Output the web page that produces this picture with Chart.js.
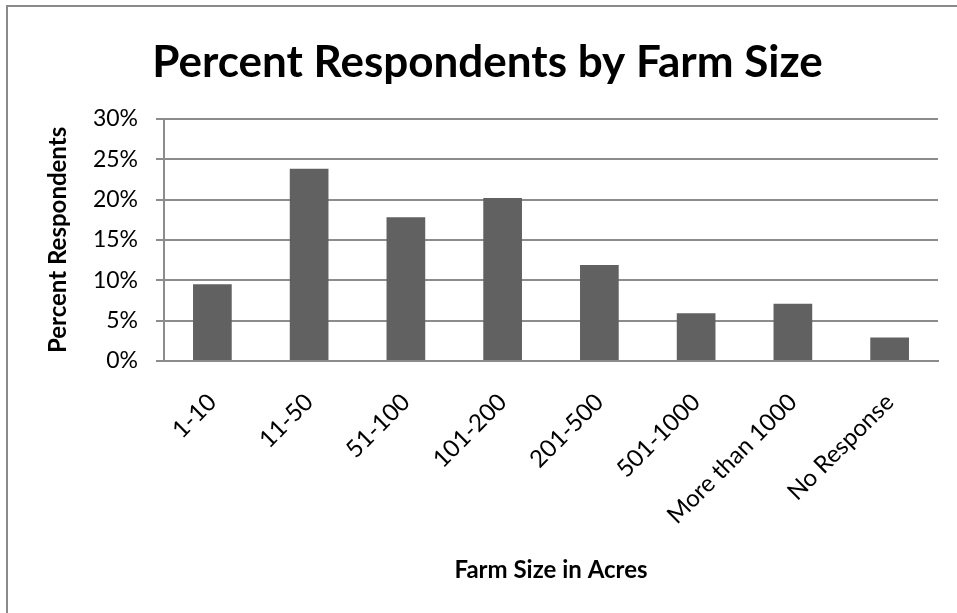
<!DOCTYPE html>
<html>
<head>
<meta charset="utf-8">
<script src="https://cdn.jsdelivr.net/npm/chart.js@4"></script>
<style>
  html, body { margin: 0; padding: 0; background: #fff; overflow: hidden; }
  #frame {
    position: absolute; left: 6px; top: 5px; width: 980px; height: 620px;
    border-left: 2px solid #8a8a8a; border-top: 2px solid #8a8a8a;
  }
  #wrap { position: absolute; left: 0; top: 0; width: 975px; height: 613px; }
</style>
</head>
<body>
<div id="frame"></div>
<div id="wrap"><canvas id="chart" width="975" height="613"></canvas></div>
<script>
// Data
const farmSizes = ['1-10', '11-50', '51-100', '101-200', '201-500', '501-1000', 'More than 1000', 'No Response'];
const percentRespondents = [9.5, 23.8, 17.8, 20.2, 11.9, 5.9, 7.1, 2.9];
const yTicks = [0, 5, 10, 15, 20, 25, 30];

const fontFamily = 'Lato, "Open Sans", sans-serif';
const gridColor = '#8c8c8c';

// Chart
const ctx = document.getElementById('chart').getContext('2d');
const chart = new Chart(ctx, {
  type: 'bar',
  data: {
    labels: farmSizes,
    datasets: [{
      label: 'Percent Respondents',
      data: percentRespondents,
      backgroundColor: '#616161',
      borderWidth: 0,
      categoryPercentage: 1,
      barPercentage: 0.4
    }]
  },
  options: {
    responsive: false,
    animation: false,
    layout: { padding: 0 },
    plugins: {
      legend: { display: false },
      tooltip: { enabled: false },
      title: {
        display: true,
        text: 'Percent Respondents by Farm Size',
        color: '#000',
        font: { family: fontFamily, size: 44, weight: 'bold', lineHeight: 1.2 },
        padding: { top: 36, bottom: 30 }
      }
    },
    scales: {
      x: {
        grid: { display: false },
        border: { display: true, color: gridColor, width: 2 },
        ticks: {
          color: '#000',
          font: { family: fontFamily, size: 24 },
          minRotation: 45,
          maxRotation: 45,
          padding: 19,
          autoSkip: false
        },
        title: {
          display: true,
          text: 'Farm Size in Acres',
          color: '#000',
          font: { family: fontFamily, size: 24, weight: 'bold', lineHeight: 1.2 },
          padding: { top: 0, bottom: 28 }
        },
        afterFit: scale => { scale.height = 252; }
      },
      y: {
        min: 0,
        max: 30,
        afterBuildTicks: scale => { scale.ticks = yTicks.map(v => ({ value: v })); },
        grid: { color: gridColor, lineWidth: 2, tickLength: 8, drawTicks: true },
        border: { display: true, color: gridColor, width: 2 },
        ticks: {
          color: '#000',
          font: { family: fontFamily, size: 23 },
          padding: 18,
          callback: v => v + '%'
        },
        title: {
          display: true,
          text: 'Percent Respondents',
          color: '#000',
          font: { family: fontFamily, size: 24, weight: 'bold', lineHeight: 1.2 },
          padding: { top: 44, bottom: 0 }
        },
        afterFit: scale => { scale.width = 164; }
      },
      // empty right-hand strip so the plot ends where the original does
      yRight: {
        position: 'right',
        min: 0,
        max: 30,
        grid: { display: false },
        border: { display: false },
        ticks: { display: false },
        afterFit: scale => { scale.width = 37; }
      }
    }
  }
});
</script>
</body>
</html>
